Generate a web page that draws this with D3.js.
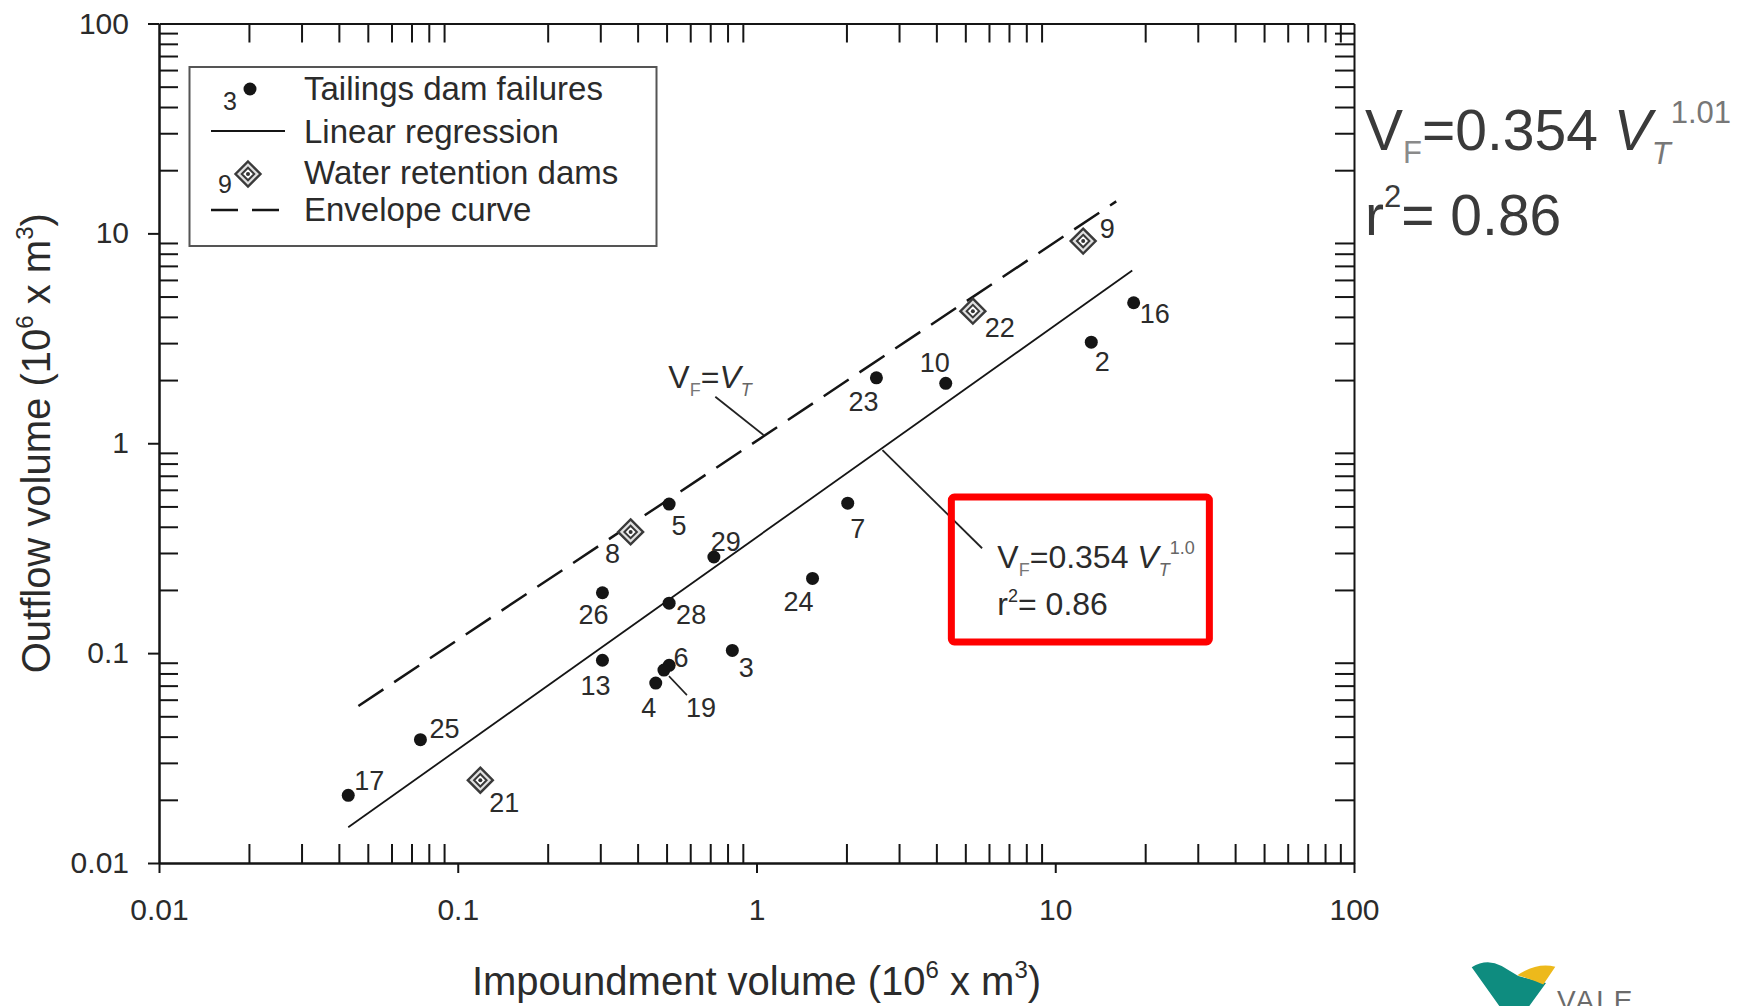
<!DOCTYPE html>
<html>
<head>
<meta charset="utf-8">
<script src="https://cdn.jsdelivr.net/npm/d3@7"></script>
<style>
  body { margin: 0; background: #fff; }
  svg { display: block; font-family: "Liberation Sans", Arial, sans-serif; }
</style>
</head>
<body>
<svg id="chart" width="1744" height="1006"></svg>
<script>
// volumes in 10^6 m3
const tailingsIds = [2, 3, 4, 5, 6, 7, 10, 13, 16, 17, 19, 23, 24, 25, 26, 28, 29];
const tailingsVT  = [13.2, 0.83, 0.46, 0.51, 0.51, 2.02, 4.3, 0.305, 18.3, 0.043, 0.49, 2.52, 1.54, 0.075, 0.305, 0.51, 0.72];
const tailingsVF  = [3.03, 0.103, 0.072, 0.513, 0.0875, 0.518, 1.93, 0.0925, 4.67, 0.021, 0.083, 2.05, 0.227, 0.0387, 0.194, 0.173, 0.287];

const waterIds = [8, 9, 21, 22];
const waterVT  = [0.379, 12.4, 0.119, 5.3];
const waterVF  = [0.378, 9.19, 0.0248, 4.26];

// fitted line VF = 0.354 VT^1.01 (end points as drawn)
const regVT = [0.043, 18.1];
const regVF = [0.0148, 6.65];

// envelope curve (VF = VT), end points as drawn
const envVT = [0.0465, 16.0];
const envVF = [0.056, 14.2];

const decades = [0.01, 0.1, 1, 10, 100];

// label offsets in px (text centre relative to the marker)
const labelOffset = {
  17: [21, -15], 25: [24, -11], 21: [24, 22], 13: [-7, 25], 26: [-9, 22], 8: [-18, 22],
  5: [10, 21], 28: [22, 11], 29: [12, -15], 6: [12, -8], 19: [37, 37], 4: [-7, 24],
  3: [14, 17], 9: [24, -13], 22: [27, 16], 16: [21, 11], 2: [11, 19], 10: [-11, -21],
  23: [-13, 24], 7: [10, 25], 24: [-14, 23]
};

const svg = d3.select('#chart');
const ink = '#151515';
const textCol = '#2b2b2b';

const x = d3.scaleLog().domain([0.01, 100]).range([159, 1354]);
const y = d3.scaleLog().domain([0.01, 100]).range([863, 23.5]);

const isDecade = d => Math.abs(Math.log10(d) - Math.round(Math.log10(d))) < 1e-9;
const minorX = x.ticks().filter(d => !isDecade(d));
const minorY = y.ticks().filter(d => !isDecade(d));
const fmt = d3.format('~g');

const styleAxis = (g) => {
  g.attr('font-family', null).attr('font-size', null);
  g.selectAll('path, line').attr('stroke', ink).attr('stroke-width', 2);
  g.selectAll('text').attr('fill', textCol).attr('font-size', 30);
};

// bottom
svg.append('g').attr('transform', 'translate(0,863)')
  .call(d3.axisBottom(x).tickValues(minorX).tickSize(-19).tickSizeOuter(0).tickFormat(''))
  .call(styleAxis);
svg.append('g').attr('transform', 'translate(0,863)')
  .call(d3.axisBottom(x).tickValues(decades).tickSize(10).tickSizeOuter(0).tickPadding(26).tickFormat(fmt))
  .call(styleAxis);
// top
svg.append('g').attr('transform', 'translate(0,23.5)')
  .call(d3.axisTop(x).tickValues(minorX).tickSize(-19).tickSizeOuter(0).tickFormat(''))
  .call(styleAxis);
// left
svg.append('g').attr('transform', 'translate(159,0)')
  .call(d3.axisLeft(y).tickValues(minorY).tickSize(-19).tickSizeOuter(0).tickFormat(''))
  .call(styleAxis);
svg.append('g').attr('transform', 'translate(159,0)')
  .call(d3.axisLeft(y).tickValues(decades).tickSize(11).tickSizeOuter(0).tickPadding(19).tickFormat(fmt))
  .call(styleAxis);
// right
svg.append('g').attr('transform', 'translate(1354,0)')
  .call(d3.axisRight(y).tickValues(minorY).tickSize(-19).tickSizeOuter(0).tickFormat(''))
  .call(styleAxis);

// axis titles
const xTitle = svg.append('text')
  .attr('x', (x.range()[0] + x.range()[1]) / 2).attr('y', 995)
  .attr('text-anchor', 'middle').attr('font-size', 40).attr('fill', textCol);
xTitle.append('tspan').text('Impoundment volume (10');
xTitle.append('tspan').attr('font-size', 24).attr('dy', -17).text('6');
xTitle.append('tspan').attr('dy', 17).text(' x m');
xTitle.append('tspan').attr('font-size', 24).attr('dy', -17).text('3');
xTitle.append('tspan').attr('dy', 17).text(')');

const yTitle = svg.append('text')
  .attr('transform', `translate(50,${(y.range()[0] + y.range()[1]) / 2}) rotate(-90)`)
  .attr('text-anchor', 'middle').attr('font-size', 40).attr('fill', textCol);
yTitle.append('tspan').text('Outflow volume (10');
yTitle.append('tspan').attr('font-size', 24).attr('dy', -17).text('6');
yTitle.append('tspan').attr('dy', 17).text(' x m');
yTitle.append('tspan').attr('font-size', 24).attr('dy', -17).text('3');
yTitle.append('tspan').attr('dy', 17).text(')');

// lines
const line = d3.line().x(d => x(d[0])).y(d => y(d[1]));
svg.append('path')
  .attr('d', line(d3.zip(envVT, envVF)))
  .attr('fill', 'none').attr('stroke', ink).attr('stroke-width', 2.5)
  .attr('stroke-dasharray', '30,13');
svg.append('path')
  .attr('d', line(d3.zip(regVT, regVF)))
  .attr('fill', 'none').attr('stroke', ink).attr('stroke-width', 1.8);

// annotations (data units)
const leader = (a, b) => svg.append('path').attr('d', line([a, b]))
  .attr('fill', 'none').attr('stroke', '#222').attr('stroke-width', 1.8);
leader([0.728, 1.665], [1.056, 1.094]);
leader([2.64, 0.928], [5.69, 0.316]);

const eqText = (vx, vy, size, parts) => {
  const t = svg.append('text').attr('x', x(vx)).attr('y', y(vy))
    .attr('font-size', size).attr('fill', textCol);
  parts.forEach(p => {
    const s = t.append('tspan').text(p.t);
    if (p.fs) s.attr('font-size', p.fs);
    if (p.dy) s.attr('dy', p.dy);
    if (p.it) s.attr('font-style', 'italic');
    if (p.c) s.attr('fill', p.c);
  });
  return t;
};

eqText(0.507, 1.83, 32, [
  { t: 'V' }, { t: 'F', fs: 18, dy: 8, c: '#777' }, { t: '=', dy: -8 },
  { t: 'V', it: true }, { t: 'T', fs: 18, dy: 8, it: true, c: '#666' }
]);

// red highlight box
svg.append('rect')
  .attr('x', x(4.49)).attr('y', y(0.554))
  .attr('width', x(32.8) - x(4.49)).attr('height', y(0.113) - y(0.554))
  .attr('rx', 3).attr('fill', 'none').attr('stroke', '#ff0000').attr('stroke-width', 7);

eqText(6.4, 0.2535, 32, [
  { t: 'V' }, { t: 'F', fs: 18, dy: 8, c: '#777' }, { t: '=0.354 ', dy: -8 },
  { t: 'V', it: true }, { t: 'T', fs: 18, dy: 8, it: true, c: '#666' },
  { t: '1.0', fs: 18, dy: -22, c: '#666' }
]);
eqText(6.4, 0.152, 32, [
  { t: 'r' }, { t: '2', fs: 18, dy: -13 }, { t: '= 0.86', dy: 13 }
]);

// markers
const tailings = tailingsIds.map((id, i) => ({ id, vt: tailingsVT[i], vf: tailingsVF[i] }));
const water = waterIds.map((id, i) => ({ id, vt: waterVT[i], vf: waterVF[i] }));

const diamond = (g, s) => {
  g.append('path').attr('d', `M0,${-s}L${s},0L0,${s}L${-s},0Z`)
    .attr('fill', '#e0e0e0').attr('stroke', '#3a3a3a').attr('stroke-width', 2.4);
  g.append('path').attr('d', `M0,${-s * 0.5}L${s * 0.5},0L0,${s * 0.5}L${-s * 0.5},0Z`)
    .attr('fill', '#fff').attr('stroke', '#3a3a3a').attr('stroke-width', 2);
  g.append('circle').attr('r', 2).attr('fill', '#333');
};

svg.append('g').selectAll('circle')
  .data(tailings).enter().append('circle')
  .attr('cx', d => x(d.vt)).attr('cy', d => y(d.vf))
  .attr('r', 6.5).attr('fill', ink);

svg.append('g').selectAll('g')
  .data(water).enter().append('g')
  .attr('transform', d => `translate(${x(d.vt)},${y(d.vf)})`)
  .each(function () { diamond(d3.select(this), 12.5); });

// point labels
svg.append('g').selectAll('text')
  .data(tailings.concat(water)).enter().append('text')
  .attr('x', d => x(d.vt) + labelOffset[d.id][0])
  .attr('y', d => y(d.vf) + labelOffset[d.id][1])
  .attr('dy', '0.35em').attr('text-anchor', 'middle')
  .attr('font-size', 27).attr('fill', textCol)
  .text(d => d.id);

// leader for label 19
const p19 = tailings.find(d => d.id === 19);
svg.append('line')
  .attr('x1', x(p19.vt) + 5).attr('y1', y(p19.vf) + 6)
  .attr('x2', x(p19.vt) + 23).attr('y2', y(p19.vf) + 25)
  .attr('stroke', '#222').attr('stroke-width', 1.6);

// legend
const legend = svg.append('g');
legend.append('rect').attr('x', 189.5).attr('y', 67).attr('width', 467).attr('height', 179)
  .attr('fill', '#fff').attr('stroke', '#555').attr('stroke-width', 2);
const legendRows = ['Tailings dam failures', 'Linear regression', 'Water retention dams', 'Envelope curve'];
const legendBase = [100, 142.5, 184, 220.5];
legend.selectAll('text.item').data(legendRows).enter().append('text')
  .attr('class', 'item').attr('x', 304).attr('y', (d, i) => legendBase[i])
  .attr('font-size', 33).attr('fill', textCol).text(d => d);
legend.append('circle').attr('cx', 250).attr('cy', 89).attr('r', 6.5).attr('fill', ink);
legend.append('text').attr('x', 230).attr('y', 110).attr('text-anchor', 'middle')
  .attr('font-size', 25).attr('fill', textCol).text('3');
legend.append('line').attr('x1', 211).attr('x2', 285).attr('y1', 131).attr('y2', 131)
  .attr('stroke', ink).attr('stroke-width', 1.8);
diamond(legend.append('g').attr('transform', 'translate(248,174)'), 12.5);
legend.append('text').attr('x', 225).attr('y', 193).attr('text-anchor', 'middle')
  .attr('font-size', 25).attr('fill', textCol).text('9');
legend.append('line').attr('x1', 211).attr('x2', 288).attr('y1', 210).attr('y2', 210)
  .attr('stroke', ink).attr('stroke-width', 2.5).attr('stroke-dasharray', '27,14');

// equation beside the chart
const side = svg.append('g').attr('fill', '#3a3a3a');
const s1 = side.append('text').attr('x', 1365).attr('y', 150).attr('font-size', 57);
s1.append('tspan').text('V');
s1.append('tspan').attr('font-size', 31).attr('dy', 13).attr('fill', '#8a8a8a').text('F');
s1.append('tspan').attr('dy', -13).text('=0.354 ');
s1.append('tspan').attr('font-style', 'italic').text('V');
s1.append('tspan').attr('font-size', 31).attr('dy', 14).attr('font-style', 'italic').attr('fill', '#777').text('T');
s1.append('tspan').attr('font-size', 31).attr('dy', -41).attr('fill', '#777').text('1.01');
const s2 = side.append('text').attr('x', 1365).attr('y', 235).attr('font-size', 57);
s2.append('tspan').text('r');
s2.append('tspan').attr('font-size', 31).attr('dy', -28).text('2');
s2.append('tspan').attr('dy', 28).text('= 0.86');

// company mark, bottom right
const logo = svg.append('g');
logo.append('path')
  .attr('d', 'M1471.7,967.3 Q1486.7,958 1501.7,966 L1518.3,976 Q1532,980 1546,983 L1529.3,1006 L1499.3,1006 Z')
  .attr('fill', '#0e8c7f');
logo.append('path')
  .attr('d', 'M1517.3,975.3 Q1536.7,962 1555.3,966.7 L1543.3,984.5 Q1530,978.5 1517.3,975.3 Z')
  .attr('fill', '#edb91b');
logo.append('text').attr('x', 1557).attr('y', 1010).attr('font-size', 28)
  .attr('letter-spacing', 2).attr('fill', '#6b6b6b').text('VALE');
</script>
</body>
</html>
